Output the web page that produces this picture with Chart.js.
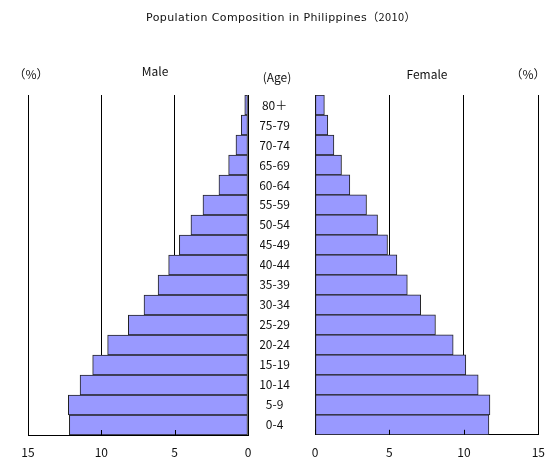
<!DOCTYPE html>
<html>
<head>
<meta charset="utf-8">
<script src="https://cdn.jsdelivr.net/npm/chart.js@4/dist/chart.umd.min.js"></script>
<style>
body { margin: 0; background: #fff; overflow: hidden; }
#wrap { position: relative; width: 547px; height: 459px; overflow: hidden; font-family: "Noto Sans CJK JP", "Noto Sans", sans-serif; color: #111; }
.lbl { position: absolute; transform: translate(-50%, -50%); white-space: nowrap; font-size: 12px; }
#title { font-family: "DejaVu Sans", "Noto Sans CJK JP", sans-serif; font-size: 11px; letter-spacing: 0.4px; }
#left { position: absolute; left: 0; top: 0; }
#right { position: absolute; left: 260px; top: 0; }
</style>
</head>
<body>
<div id="wrap">
	<canvas id="left" width="260" height="459"></canvas>
	<canvas id="right" width="295" height="459"></canvas>
	<div class="lbl" id="title" style="left:281px;top:16px">Population Composition in Philippines<span style="font-family:'Noto Sans CJK JP'">（2010）</span></div>
	<div class="lbl" style="left:31px;top:73px">（%）</div>
	<div class="lbl" style="left:155px;top:70px">Male</div>
	<div class="lbl" style="left:277px;top:76px">(Age)</div>
	<div class="lbl" style="left:427px;top:73px">Female</div>
	<div class="lbl" style="left:528px;top:73px">（%）</div>
</div>
<script>
// age groups, top to bottom
var ages = ["80＋", "75-79", "70-74", "65-69", "60-64", "55-59", "50-54", "45-49", "40-44",
	"35-39", "30-34", "25-29", "20-24", "15-19", "10-14", "5-9", "0-4"];
var male = [0.22, 0.46, 0.82, 1.32, 1.98, 3.07, 3.89, 4.68, 5.41, 6.13, 7.09, 8.16, 9.57, 10.59, 11.45, 12.25, 12.18];
var female = [0.63, 0.86, 1.27, 1.78, 2.34, 3.46, 4.2, 4.87, 5.5, 6.2, 7.1, 8.09, 9.28, 10.13, 10.96, 11.75, 11.68];
var ticksPct = [0, 5, 10, 15];

var barFill = "#9999ff";
var barLine = "#222";

// little upward tick marks on the bottom axis, drawn over the bars
var innerTicks = {
	id: "innerTicks",
	afterDatasetsDraw: function(chart) {
		var ctx = chart.ctx;
		var sx = chart.scales.x;
		var y = chart.chartArea.bottom;
		ctx.save();
		ctx.strokeStyle = "#000";
		ctx.lineWidth = 1;
		ticksPct.forEach(function(v) {
			var x = Math.round(sx.getPixelForValue(v)) + 0.5;
			ctx.beginPath();
			ctx.moveTo(x, y);
			ctx.lineTo(x, y - 5);
			ctx.stroke();
		});
		ctx.restore();
	}
};

function xAxis(reverse) {
	return {
		reverse: reverse,
		min: 0,
		max: 15,
		afterBuildTicks: function(axis) {
			axis.ticks = ticksPct.map(function(v) { return { value: v }; });
		},
		afterFit: function(axis) { axis.height = 24; },
		grid: { color: "#000", lineWidth: 1, drawTicks: false },
		border: { display: true, color: "#000", width: 1 },
		ticks: { padding: 10, color: "#111", font: { family: "Noto Sans CJK JP", size: 12 } }
	};
}

function barSet(data) {
	return {
		data: data,
		backgroundColor: barFill,
		borderColor: barLine,
		borderWidth: 1,
		borderSkipped: false,
		barPercentage: 1,
		categoryPercentage: 1
	};
}

new Chart(document.getElementById("left"), {
	type: "bar",
	data: { labels: ages, datasets: [barSet(male)] },
	plugins: [innerTicks],
	options: {
		indexAxis: "y",
		responsive: false,
		animation: false,
		layout: { padding: { top: 95, left: 28, right: 12, bottom: 0 } },
		plugins: { legend: { display: false }, tooltip: { enabled: false } },
		scales: {
			x: xAxis(true),
			y: { display: false }
		}
	}
});

new Chart(document.getElementById("right"), {
	type: "bar",
	data: { labels: ages, datasets: [barSet(female)] },
	plugins: [innerTicks],
	options: {
		indexAxis: "y",
		responsive: false,
		animation: false,
		layout: { padding: { top: 95, left: 0, right: 10, bottom: 0 } },
		plugins: { legend: { display: false }, tooltip: { enabled: false } },
		scales: {
			x: xAxis(false),
			y: {
				position: "left",
				afterFit: function(axis) { axis.width = 55; },
				grid: { display: false },
				border: { display: true, color: "#000", width: 1 },
				ticks: { crossAlign: "center", padding: 17, color: "#111", font: { family: "Noto Sans CJK JP", size: 12 } }
			}
		}
	}
});
</script>
</body>
</html>
